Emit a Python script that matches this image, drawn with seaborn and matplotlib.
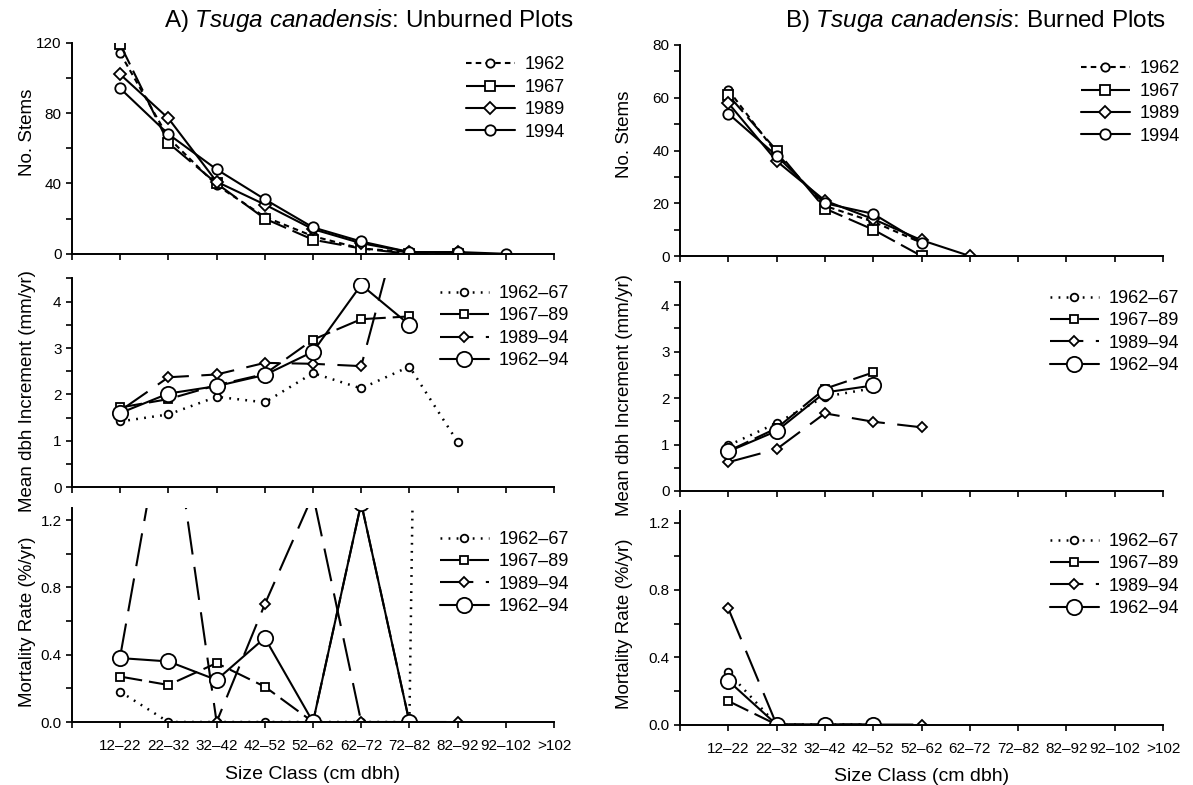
import numpy as np
import pandas as pd
import matplotlib
matplotlib.use("Agg")
import matplotlib.pyplot as plt
import seaborn as sns

nan = np.nan

size_classes = ["12–22", "22–32", "32–42", "42–52", "52–62",
                "62–72", "72–82", "82–92", "92–102", ">102"]
census_years = ["1962", "1967", "1989", "1994"]
periods = ["1962–67", "1967–89", "1989–94", "1962–94"]

# ---- A) Unburned plots ----
stems_a_1962 = [114, 66, 39, 21, 10, 3, 1, 1, nan, nan]
stems_a_1967 = [119, 63, 40, 20, 8, 3, 0, 0, nan, nan]
stems_a_1989 = [102, 77, 41, 28, 14, 6, 1, 1, nan, nan]
stems_a_1994 = [94, 68, 48, 31, 15, 7, 1, 1, 0, nan]

incr_a_6267 = [1.42, 1.57, 1.95, 1.83, 2.46, 2.13, 2.60, 0.98, nan, nan]
incr_a_6789 = [1.72, 1.90, 2.20, 2.44, 3.18, 3.62, 3.68, nan, nan, nan]
incr_a_8994 = [1.65, 2.37, 2.43, 2.68, 2.66, 2.61, 6.50, nan, nan, nan]
incr_a_6294 = [1.60, 2.02, 2.18, 2.42, 2.92, 4.36, 3.50, nan, nan, nan]

mort_a_6267 = [0.18, 0.0, 0.0, 0.0, 0.0, 0.0, 0.0, 20.0, nan, nan]
mort_a_6789 = [0.27, 0.22, 0.35, 0.21, 0.0, 1.30, 0.0, nan, nan, nan]
mort_a_8994 = [0.39, 2.0, 0.0, 0.70, 1.35, 0.0, 0.0, 0.0, nan, nan]
mort_a_6294 = [0.38, 0.36, 0.25, 0.50, 0.0, 1.30, 0.0, nan, nan, nan]

# ---- B) Burned plots ----
stems_b_1962 = [63, 39, 19, 13, 5, nan, nan, nan, nan, nan]
stems_b_1967 = [61, 40, 18, 10, 0, nan, nan, nan, nan, nan]
stems_b_1989 = [58, 36, 21, 14, 6, 0, nan, nan, nan, nan]
stems_b_1994 = [54, 38, 20, 16, 5, nan, nan, nan, nan, nan]

incr_b_6267 = [0.98, 1.46, 2.03, 2.21, nan, nan, nan, nan, nan, nan]
incr_b_6789 = [0.86, 1.35, 2.20, 2.55, nan, nan, nan, nan, nan, nan]
incr_b_8994 = [0.62, 0.90, 1.67, 1.49, 1.37, nan, nan, nan, nan, nan]
incr_b_6294 = [0.85, 1.29, 2.12, 2.27, nan, nan, nan, nan, nan, nan]

mort_b_6267 = [0.31, 0.0, 0.0, 0.0, nan, nan, nan, nan, nan, nan]
mort_b_6789 = [0.14, 0.0, 0.0, 0.0, nan, nan, nan, nan, nan, nan]
mort_b_8994 = [0.69, 0.0, 0.0, 0.0, 0.0, nan, nan, nan, nan, nan]
mort_b_6294 = [0.26, 0.0, 0.0, 0.0, nan, nan, nan, nan, nan, nan]

sns.set_theme(style="ticks")
plt.rcParams.update({
    "font.family": ["Liberation Sans", "DejaVu Sans"],
    "mathtext.fontset": "custom",
    "mathtext.rm": "Liberation Sans",
    "mathtext.it": "Liberation Sans:italic",
    "lines.scale_dashes": False,
    "axes.edgecolor": "black",
    "axes.linewidth": 1.4,
    "xtick.color": "black",
    "ytick.color": "black",
    "text.color": "black",
    "axes.labelcolor": "black",
})

stem_styles = [
    dict(linestyle=(0, (4, 3)), marker="o", markersize=6),
    dict(linestyle=(0, (16, 5)), marker="s", markersize=6.5),
    dict(linestyle="-", marker="D", markersize=6),
    dict(linestyle="-", marker="o", markersize=7.5),
]
rate_styles = [
    dict(linestyle=(0, (1.3, 4.5)), marker="o", markersize=5.5, linewidth=1.8),
    dict(linestyle=(0, (16, 5)), marker="s", markersize=6),
    dict(linestyle=(0, (24, 9)), marker="D", markersize=5.5),
    dict(linestyle="-", marker="o", markersize=11),
]

W, H = 1193, 785
fig = plt.figure(figsize=(W / 100, H / 100), dpi=100)


def ax_at(x0, x1, ytop, ybot):
    return fig.add_axes([x0 / W, 1 - ybot / H, (x1 - x0) / W, (ybot - ytop) / H])


pos = np.arange(len(size_classes))


def draw(ax, series, labels, styles):
    for vals, lab, st in zip(series, labels, styles):
        df = pd.DataFrame({"pos": pos, "val": vals}).dropna()
        kws = dict(linewidth=1.5)
        kws.update(st)
        sns.lineplot(data=df, x="pos", y="val", ax=ax, color="black", label=lab,
                     mfc="white", mec="black", mew=1.3, **kws)


def style_axes(ax, ylim, major, minor, fmt, bottom):
    ax.set_xlim(-1, 9)
    ax.set_ylim(*ylim)
    ax.set_yticks(major)
    ax.set_yticklabels([fmt.format(v) for v in major])
    ax.set_yticks(minor, minor=True)
    ax.set_xticks(np.arange(-1, 10))
    if bottom:
        ax.set_xticklabels([""] + size_classes)
        ax.set_xlabel("Size Class (cm dbh)", fontsize=14, labelpad=9)
    else:
        ax.set_xticklabels([""] * 11)
        ax.set_xlabel("")
    for s in ["top", "right"]:
        ax.spines[s].set_visible(False)
    ax.tick_params(axis="both", which="major", direction="out", length=4.5, width=1.2,
                   labelsize=11)
    ax.tick_params(axis="y", which="minor", direction="out", length=4.5, width=1.2)
    ax.tick_params(axis="y", which="major", pad=3)
    ax.tick_params(axis="x", which="major", pad=8)
    ax.set_facecolor("white")


def legend(ax, x, y):
    ax.legend(loc="upper left", bbox_to_anchor=(x, y), frameon=False, fontsize=13,
              borderpad=0, borderaxespad=0, handlelength=2.7, handletextpad=0.55,
              labelspacing=0.3, numpoints=1)


L0, L1 = 72, 554
R0, R1 = 680, 1163

# Column A
a1 = ax_at(L0, L1, 42.7, 253.8)
draw(a1, [stems_a_1962, stems_a_1967, stems_a_1989, stems_a_1994], census_years, stem_styles)
style_axes(a1, (0, 120), [0, 40, 80, 120], [20, 60, 100], "{:.0f}", False)
a1.set_ylabel("No. Stems", fontsize=13.5)
a1.yaxis.set_label_coords(-0.074, 0.577)
legend(a1, 0.817, 0.935)

a2 = ax_at(L0, L1, 278.3, 487.4)
draw(a2, [incr_a_6267, incr_a_6789, incr_a_8994, incr_a_6294], periods, rate_styles)
style_axes(a2, (0, 4.5), [0, 1, 2, 3, 4], [0.5, 1.5, 2.5, 3.5, 4.5], "{:.0f}", False)
a2.set_ylabel("Mean dbh Increment (mm/yr)", fontsize=13.5)
a2.yaxis.set_label_coords(-0.074, 0.46)
legend(a2, 0.763, 0.968)

a3 = ax_at(L0, L1, 508, 722)
draw(a3, [mort_a_6267, mort_a_6789, mort_a_8994, mort_a_6294], periods, rate_styles)
style_axes(a3, (0, 1.272), [0, 0.4, 0.8, 1.2], [0.2, 0.6, 1.0], "{:.1f}", True)
a3.set_ylabel("Mortality Rate (%/yr)", fontsize=13.5)
a3.yaxis.set_label_coords(-0.074, 0.47)
legend(a3, 0.763, 0.893)

# Column B
b1 = ax_at(R0, R1, 45, 256)
draw(b1, [stems_b_1962, stems_b_1967, stems_b_1989, stems_b_1994], census_years, stem_styles)
style_axes(b1, (0, 80), [0, 20, 40, 60, 80], [10, 30, 50, 70], "{:.0f}", False)
b1.set_ylabel("No. Stems", fontsize=13.5)
b1.yaxis.set_label_coords(-0.097, 0.577)
legend(b1, 0.830, 0.927)

b2 = ax_at(R0, R1, 281.8, 491)
draw(b2, [incr_b_6267, incr_b_6789, incr_b_8994, incr_b_6294], periods, rate_styles)
style_axes(b2, (0, 4.5), [0, 1, 2, 3, 4], [0.5, 1.5, 2.5, 3.5, 4.5], "{:.0f}", False)
b2.set_ylabel("Mean dbh Increment (mm/yr)", fontsize=13.5)
b2.yaxis.set_label_coords(-0.097, 0.46)
legend(b2, 0.766, 0.961)

b3 = ax_at(R0, R1, 510.5, 724.6)
draw(b3, [mort_b_6267, mort_b_6789, mort_b_8994, mort_b_6294], periods, rate_styles)
style_axes(b3, (0, 1.272), [0, 0.4, 0.8, 1.2], [0.2, 0.6, 1.0], "{:.1f}", True)
b3.set_ylabel("Mortality Rate (%/yr)", fontsize=13.5)
b3.yaxis.set_label_coords(-0.097, 0.47)
legend(b3, 0.766, 0.895)

fig.text(164 / W, 1 - 21 / H, r"A) $\mathit{Tsuga\ canadensis}$: Unburned Plots",
         fontsize=17.5, ha="left", va="center")
fig.text(785 / W, 1 - 21 / H, r"B) $\mathit{Tsuga\ canadensis}$: Burned Plots",
         fontsize=17.5, ha="left", va="center")

fig.savefig("out.png", dpi=100, facecolor="white")
